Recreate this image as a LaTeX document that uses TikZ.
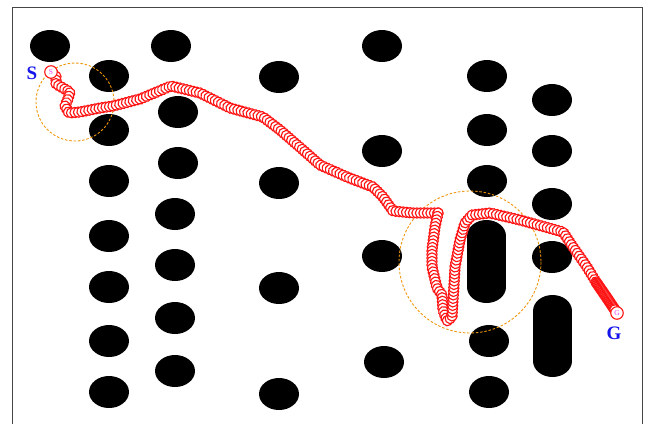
\documentclass[tikz,border=0pt]{standalone}
\usepackage{fontspec}
\setmainfont{Liberation Serif}
\definecolor{FrameGray}{RGB}{70,70,70}
\definecolor{RingRed}{RGB}{255,20,20}
\definecolor{ZoneOrange}{RGB}{240,150,10}
\definecolor{LabelBlue}{RGB}{20,20,235}
\definecolor{TagMagenta}{RGB}{240,60,240}
\usepackage{tikz}
\usetikzlibrary{decorations.markings, calc}

\begin{document}
\begin{tikzpicture}[x=1pt, y=-1pt,
    obstacle/.style={fill=black},
    zone/.style={draw=ZoneOrange, dash pattern=on 2.5pt off 1.8pt, line width=0.9pt},
    ring/.style={draw=RingRed, fill=white, line width=1.15pt},
    trail/.style={decoration={markings, mark=between positions 0 and 1 step #1 with {\filldraw[ring] (0,0) circle (5.1pt);}}, decorate},
    endtag/.style={circle, ring, inner sep=0pt, minimum size=12.5pt, text=TagMagenta, font=\fontsize{7.5}{7.5}\selectfont},
    endlabel/.style={text=LabelBlue, font=\fontsize{19}{19}\selectfont\bfseries}]
  \useasboundingbox (0,0) rectangle (646,424);
  \draw[FrameGray, line width=1pt] (12,424) -- (12,7) -- (642,7) -- (642,424);
  % obstacles
  \foreach \x/\y in {50/46, 171/46, 382/46, 109/76, 279/77, 487/76, 552/100, 178/112,
      109/130, 487/130, 382/151, 552/151, 178/163, 109/181, 279/183, 487/181, 552/204,
      175/214, 109/236, 382/256, 552/257, 175/265, 109/287, 279/288, 175/318, 109/341,
      489/341, 384/362, 175/371, 109/392, 279/394, 489/392}
    \fill[obstacle] (\x,\y) ellipse (20 and 16);
  \foreach \x/\t/\b in {486.5/236/287, 552.5/311/361} {
    \fill[obstacle] (\x-19.5,\t) rectangle (\x+19.5,\b);
    \fill[obstacle] (\x,\t) ellipse (19.5 and 16);
    \fill[obstacle] (\x,\b) ellipse (19.5 and 16);
  }
  \draw[zone] (75,102) circle (39);
  \draw[zone] (470,262) circle (71);
  % path
  \path[trail=3.5pt] (51,72) -- (56,76) -- (56,84) -- (63,88) -- (70,92) -- (68,99)
      -- (65,106) -- (69,113) -- (80,112) -- (100,108) -- (113,106) -- (140,99) -- (171,86)
      -- (200,93) -- (230,108) -- (263,117) -- (280,130) -- (303,150) -- (320,165)
      -- (347,177) -- (373,187) -- (383,197) -- (393,211) -- (413,213) -- (438,213);
  \path[trail=3.5pt] (438,213) -- (435,227) -- (432,250) -- (432,267) -- (437,288)
      -- (442,295) -- (443,310) -- (447,321) -- (452,317) -- (453,300) -- (454,285)
      -- (455,267) -- (460,240) -- (465,223) -- (472,215) -- (490,213) -- (520,220)
      -- (563,232) -- (573,247) -- (587,267) -- (596,282);
  \path[trail=1.2pt] (596,282) -- (607,298) -- (615,310);
  \node[endtag] (start) at (51,72) {S};
  \node[endtag] (goal) at (617,313) {G};
  \node[endlabel] (slabel) at (32,73) {S};
  \node[endlabel] (glabel) at (614,333) {G};
\end{tikzpicture}
\end{document}
